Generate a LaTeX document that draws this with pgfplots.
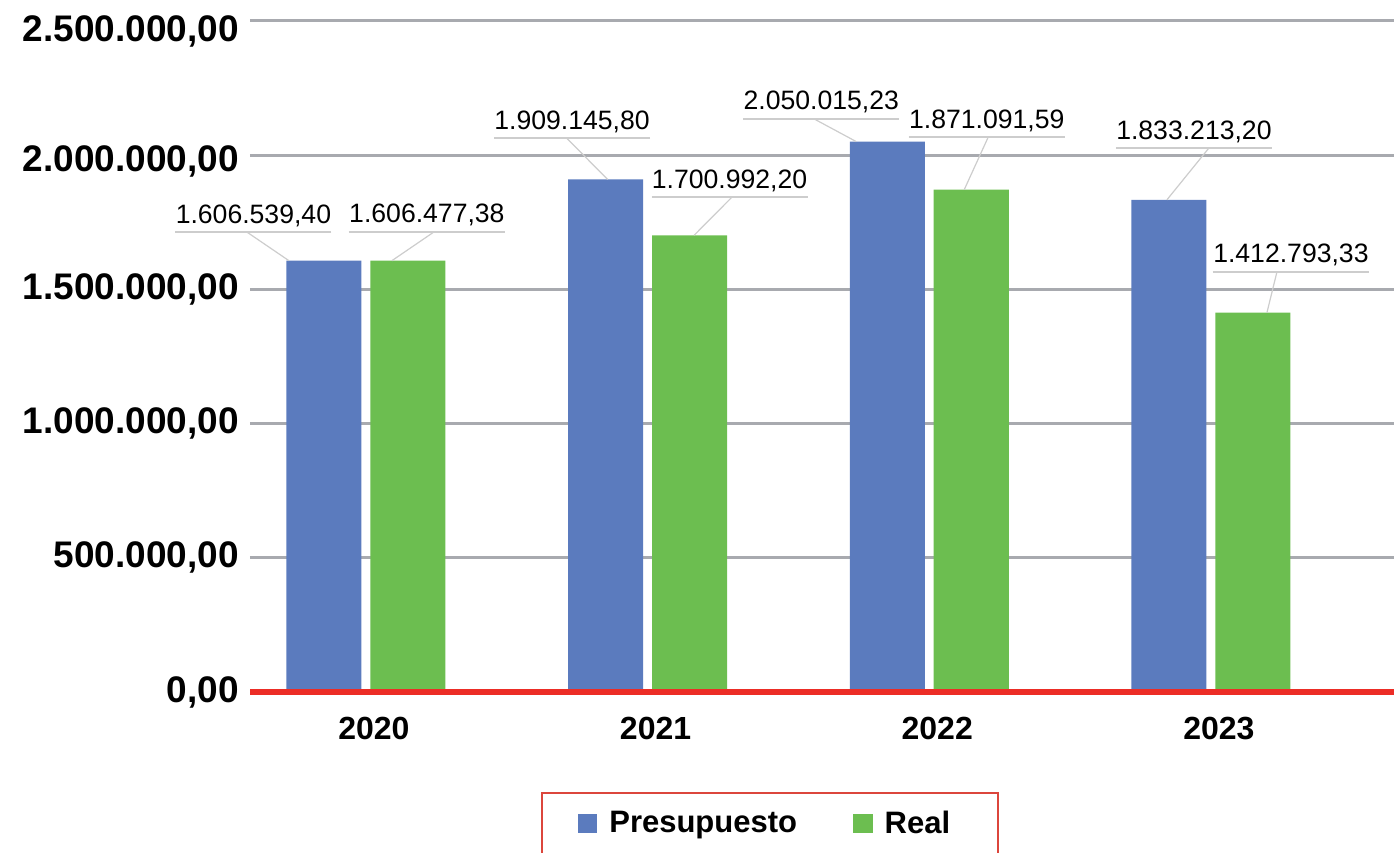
\documentclass[border=0pt]{standalone}
\usepackage{pgfplots}
\pgfplotsset{compat=1.18}
\usepackage{pgfplotstable}
\usepackage{fontspec}
\setmainfont{Liberation Sans}

\definecolor{presBlue}{RGB}{91,123,190}
\definecolor{realGreen}{RGB}{108,190,80}
\definecolor{gridGray}{RGB}{168,170,175}
\definecolor{axisRed}{RGB}{236,45,38}
\definecolor{legendRed}{RGB}{220,70,60}
\definecolor{calloutGray}{RGB}{205,205,205}

% Budget vs. actual per year. Callout geometry in px (1px = 0.5pt), relative to the bar top:
% cx = label centre, uy = underline height, lx = leader start on underline, bx = leader end on bar
\pgfplotstableread{
x y lab cx uy lx bx
0 1606539.40 1.606.539,40 -70.5 28.6 -77 -35
1 1909145.80 1.909.145,80 -33.5 41.4 -39 2
2 2050015.23 2.050.015,23 -66 22.6 -73 -31
3 1833213.20 1.833.213,20 25 51.8 40 -2
}\presdata

\pgfplotstableread{
x y lab cx uy lx bx
0 1606477.38 1.606.477,38 19 28.7 26 -16
1 1700992.20 1.700.992,20 40 38.3 42.5 4.5
2 1871091.59 1.871.091,59 15.5 52.6 17 -7
3 1412793.33 1.412.793,33 38 40.7 24 14
}\realdata

\pgfplotsset{
  callout/.style={
    point meta=explicit symbolic,
    visualization depends on={\thisrow{cx}\as\ccx},
    visualization depends on={\thisrow{uy}\as\cuy},
    visualization depends on={\thisrow{lx}\as\clx},
    visualization depends on={\thisrow{bx}\as\cbx},
    nodes near coords,
    every node near coord/.append style={
      anchor=base, inner sep=0pt, text=black,
      font=\fontsize{13.3}{15}\selectfont,
      xshift=\ccx*0.5pt, yshift=(\cuy+9)*0.5pt,
      append after command={
        ([yshift=-4.5pt]\tikzlastnode.base west)
          edge[calloutGray, line width=0.6pt] ([yshift=-4.5pt]\tikzlastnode.base east)
        ([xshift=(\clx-(\ccx))*0.5pt, yshift=-4.5pt]\tikzlastnode.base)
          edge[calloutGray, line width=0.6pt]
          ([xshift=(\cbx-(\ccx))*0.5pt, yshift=-(\cuy+9)*0.5pt]\tikzlastnode.base)
      }
    }
  }
}

\begin{document}
\begin{tikzpicture}
\begin{axis}[
  name=ax,
  at={(0,0)}, anchor=south west,
  scale only axis,
  width=572pt, height=335.6pt,
  ybar, bar width=0.2663,
  xmin=-0.4115, xmax=3.65,
  ymin=0, ymax=2500000,
  axis line style={draw=none},
  major tick style={draw=none},
  ymajorgrids, grid style={gridGray, line width=1.5pt},
  scaled y ticks=false,
  ytick={0,500000,1000000,1500000,2000000,2500000},
  yticklabels={{0,00},{500.000,00},{1.000.000,00},{1.500.000,00},
    {\raisebox{-3pt}[\height][\depth]{2.000.000,00}},
    {\raisebox{-5.5pt}[\height][\depth]{2.500.000,00}}},
  yticklabel style={font=\bfseries\fontsize{18.5}{21}\selectfont, xshift=-2pt},
  xtick={0,1,2,3},
  xticklabels={2020,2021,2022,2023},
  xticklabel style={font=\bfseries\fontsize{16}{19}\selectfont, xshift=4pt, yshift=-5pt},
  legend columns=2,
  legend style={
    at={(0.4545,0)}, anchor=north, yshift=-50pt,
    draw=legendRed, line width=0.8pt,
    font=\bfseries\fontsize{15.5}{18}\selectfont,
    inner xsep=18pt, inner ysep=7pt,
    nodes={inner xsep=6pt, inner ysep=2pt},
    /tikz/every even column/.append style={column sep=22pt},
  },
]
\addlegendimage{legend image code/.code={\fill[presBlue] (0pt,-4.5pt) rectangle (9pt,4.5pt);}}
\addlegendentry{Presupuesto}
\addlegendimage{legend image code/.code={\fill[realGreen] (0pt,-4.5pt) rectangle (9pt,4.5pt);}}
\addlegendentry{Real}
\addplot[fill=presBlue, draw=none, bar shift=-0.1491, forget plot, callout]
  table[x=x, y=y, meta=lab] {\presdata};
\addplot[fill=realGreen, draw=none, bar shift=0.1491, forget plot, callout]
  table[x=x, y=y, meta=lab] {\realdata};
\end{axis}
% red base line along the value 0
\draw[axisRed, line width=3pt] (ax.south west) -- (ax.south east);
\pgfresetboundingbox
\useasboundingbox ([shift={(-125pt,-80.5pt)}]ax.south west) rectangle ([yshift=10.4pt]ax.north east);
\end{tikzpicture}
\end{document}
